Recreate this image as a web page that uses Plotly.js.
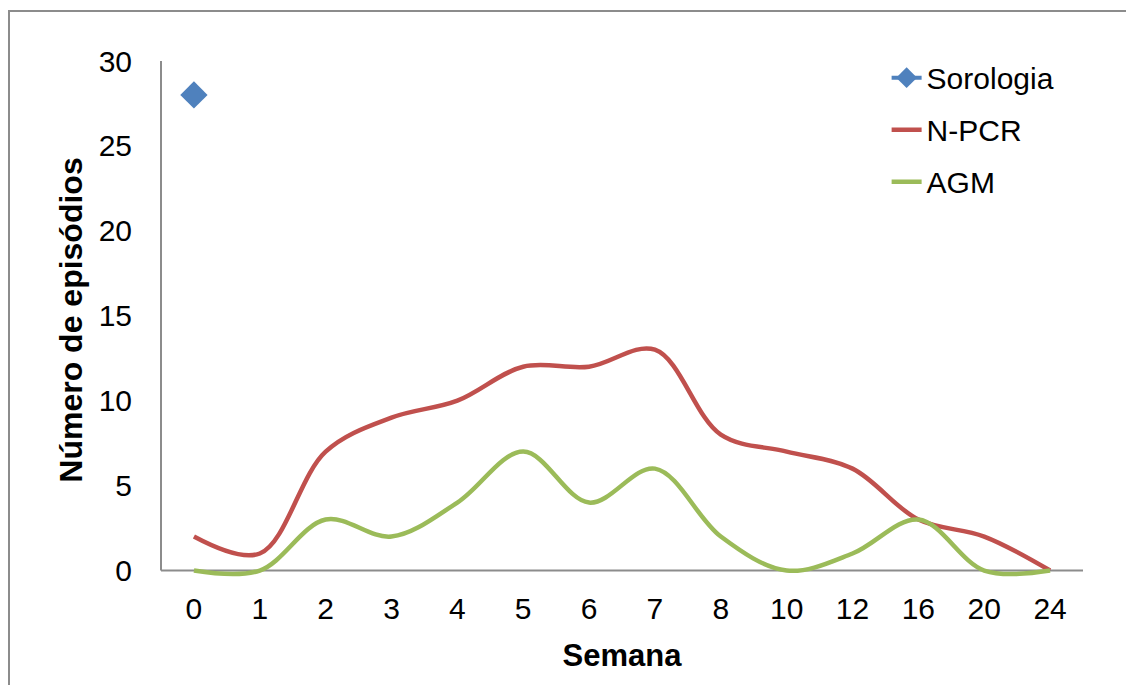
<!DOCTYPE html>
<html>
<head>
<meta charset="utf-8">
<script src="https://cdn.plot.ly/plotly-3.0.1.min.js"></script>
<style>
html,body{margin:0;padding:0;background:#fff;}
#wrap{position:relative;width:1126px;height:685px;overflow:hidden;}
#chart{width:1126px;height:685px;}
#frame{position:absolute;left:8px;top:10px;width:1140px;height:700px;border:2px solid #8c8c8c;box-sizing:border-box;pointer-events:none;}
</style>
</head>
<body>
<div id="wrap"><div id="chart"></div><div id="frame"></div></div>
<script>
const weeks = ["0","1","2","3","4","5","6","7","8","10","12","16","20","24"];
const sorologiaWeeks = ["0"];
const sorologia = [28];
const npcr = [2,1,7,9,10,12,12,13,8,7,6,3,2,0];
const agm = [0,0,3,2,4,7,4,6,2,0,1,3,0,0];
const yTicks = [0,5,10,15,20,25,30];

const fontFam = '"Liberation Sans", Arial, sans-serif';

const traces = [
  {x: sorologiaWeeks, y: sorologia, name: 'Sorologia', type: 'scatter', mode: 'lines+markers',
   line: {color: '#4F81BD', width: 4}, marker: {symbol: 'diamond', size: 21, color: '#4F81BD'},
   legendgroup: 'a', cliponaxis: false},
  {x: weeks, y: npcr, name: 'N-PCR', type: 'scatter', mode: 'lines',
   line: {color: '#C0504D', width: 4.5, shape: 'spline', smoothing: 1}, legendgroup: 'b', cliponaxis: false},
  {x: weeks, y: agm, name: 'AGM', type: 'scatter', mode: 'lines',
   line: {color: '#9BBB59', width: 4.5, shape: 'spline', smoothing: 1}, legendgroup: 'c', cliponaxis: false}
];

const layout = {
  width: 1126, height: 685,
  margin: {l: 161, r: 43, t: 61, b: 105.5},
  paper_bgcolor: '#fff', plot_bgcolor: '#fff',
  font: {family: fontFam, size: 30, color: '#000'},
  showlegend: true,
  legend: {x: 0.787, y: 1.018, xanchor: 'left', yanchor: 'top', tracegroupgap: 10,
           font: {family: fontFam, size: 30, color: '#000'}, bgcolor: 'rgba(0,0,0,0)'},
  xaxis: {
    type: 'category', categoryorder: 'array', categoryarray: weeks,
    range: [-0.5, 13.5], showgrid: false, zeroline: false,
    showline: false, ticks: '',
    ticklabelstandoff: 9,
    tickfont: {family: fontFam, size: 30, color: '#000'},
    title: {text: '<b>Semana</b>', font: {family: fontFam, size: 31, color: '#000'}, standoff: 20}
  },
  yaxis: {
    range: [-0.5, 30], tickvals: yTicks, showgrid: false, zeroline: false,
    showline: false, ticks: '',
    ticklabelstandoff: 28,
    tickfont: {family: fontFam, size: 30, color: '#000'},
    title: {text: '<b>Número de episódios</b>', font: {family: fontFam, size: 32, color: '#000'}, standoff: 6}
  },
  shapes: [
    {type: 'line', layer: 'below', xref: 'paper', yref: 'y', x0: 0, x1: 1, y0: 0, y1: 0,
     line: {color: '#8c8c8c', width: 2}},
    {type: 'line', layer: 'below', xref: 'paper', yref: 'y', x0: 0, x1: 0, y0: 0, y1: 30,
     line: {color: '#8c8c8c', width: 2}}
  ]
};

Plotly.newPlot('chart', traces, layout, {staticPlot: true, displayModeBar: false});
</script>
</body>
</html>
